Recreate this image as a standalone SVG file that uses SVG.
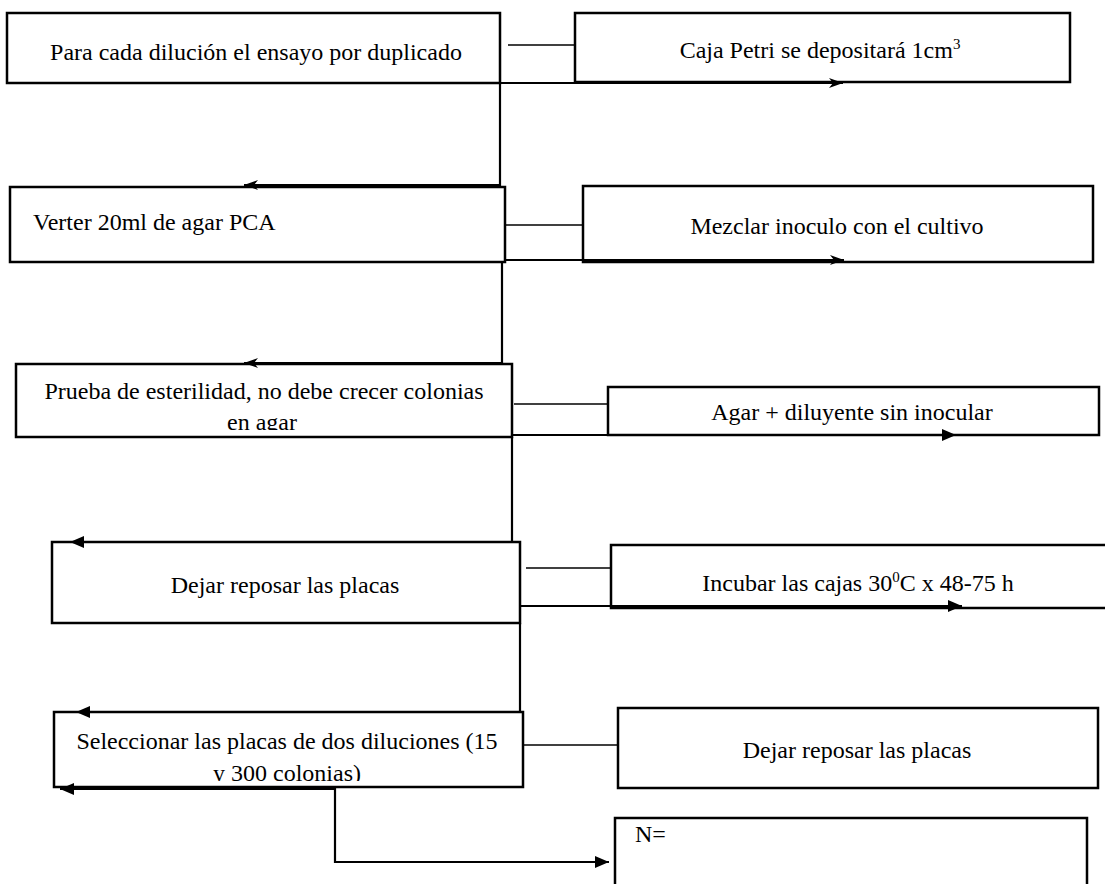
<svg xmlns="http://www.w3.org/2000/svg" width="1105" height="884" viewBox="0 0 1105 884">
<defs>
<style>
.box{fill:#fff;stroke:#000;stroke-width:2.5}
.t{font-family:"Liberation Serif","Times New Roman",serif;font-size:24px;fill:#000}
.c{text-anchor:middle}
.ln{fill:none;stroke:#000;stroke-width:1.6}
.ar{fill:none;stroke:#000;stroke-width:2.2}
</style>
<marker id="st" viewBox="0 0 14 10" refX="14" refY="5" markerWidth="14" markerHeight="10" markerUnits="userSpaceOnUse" orient="auto">
<path d="M0,0 L14,5 L0,10 L4,5 Z" fill="#000"/>
</marker>
<marker id="tr" viewBox="0 0 14 12" refX="14" refY="6" markerWidth="14" markerHeight="12" markerUnits="userSpaceOnUse" orient="auto">
<path d="M0,0 L14,6 L0,12 Z" fill="#000"/>
</marker>
<clipPath id="c5"><rect x="15" y="364" width="497" height="66"/></clipPath>
<clipPath id="c9"><rect x="54" y="712" width="469" height="69"/></clipPath>
</defs>

<g id="n1"><rect class="box" x="7" y="13" width="493" height="70"/><text class="t c" x="256" y="60" font-size="25">Para cada dilución el ensayo por duplicado</text></g>
<g id="n2"><rect class="box" x="575" y="13" width="495" height="69"/><text class="t c" x="820" y="58">Caja Petri se depositará 1cm<tspan dy="-9" font-size="15">3</tspan></text></g>
<g id="n3"><rect class="box" x="10" y="187" width="495" height="75"/><text class="t" x="33" y="230">Verter 20ml de agar PCA</text></g>
<g id="n4"><rect class="box" x="583" y="186" width="510" height="76"/><text class="t c" x="837" y="234">Mezclar inoculo con el cultivo</text></g>
<g id="n5"><rect class="box" x="16" y="364" width="496" height="73"/><g clip-path="url(#c5)"><text class="t c" x="264" y="399">Prueba de esterilidad, no debe crecer colonias</text><text class="t c" x="262" y="430">en agar</text></g></g>
<g id="n6"><rect class="box" x="608" y="387" width="491" height="48"/><text class="t c" x="852" y="420">Agar + diluyente sin inocular</text></g>
<g id="n7"><rect class="box" x="52" y="542" width="468" height="81"/><text class="t c" x="285" y="593">Dejar reposar las placas</text></g>
<g id="n8"><path class="box" d="M1110,545 H611 V608 H1110"/><text class="t c" x="858" y="591">Incubar las cajas 30<tspan dy="-9" font-size="15">0</tspan><tspan dy="9">C x 48-75 h</tspan></text></g>
<g id="n9"><rect class="box" x="54" y="712" width="469" height="75"/><g clip-path="url(#c9)"><text class="t c" x="287" y="749">Seleccionar las placas de dos diluciones (15</text><text class="t c" x="287" y="781">y 300 colonias)</text></g></g>
<g id="n10"><rect class="box" x="618" y="708" width="480" height="80"/><text class="t c" x="857" y="758">Dejar reposar las placas</text></g>
<g id="n11"><path class="box" d="M615,890 V818 H1087 V890"/><text class="t" x="635" y="842">N=</text></g>

<g id="connectors">
<line class="ln" x1="508" y1="45" x2="575" y2="45"/>
<line class="ar" x1="500" y1="83" x2="843" y2="83" marker-end="url(#st)"/>
<polyline class="ar" points="500,83 500,185 244,185" marker-end="url(#st)"/>
<line class="ln" x1="505" y1="225" x2="583" y2="225"/>
<line class="ar" x1="505" y1="260" x2="844" y2="260" marker-end="url(#st)"/>
<polyline class="ar" points="502,262 502,363 244,363" marker-end="url(#st)"/>
<line class="ln" x1="514" y1="404" x2="608" y2="404"/>
<line class="ar" x1="512" y1="435" x2="956" y2="435" marker-end="url(#tr)"/>
<polyline class="ar" points="512,437 512,542 70,542" marker-end="url(#tr)"/>
<line class="ln" x1="526" y1="568" x2="611" y2="568"/>
<line class="ar" x1="520" y1="606" x2="962" y2="606" marker-end="url(#tr)"/>
<polyline class="ar" points="520,623 520,712 76,712" marker-end="url(#tr)"/>
<line class="ln" x1="523" y1="745" x2="618" y2="745"/>
<line class="ar" x1="335" y1="789" x2="60" y2="789" marker-end="url(#tr)"/>
<polyline class="ar" points="335,787 335,862 609,862" marker-end="url(#tr)"/>
</g>
</svg>
